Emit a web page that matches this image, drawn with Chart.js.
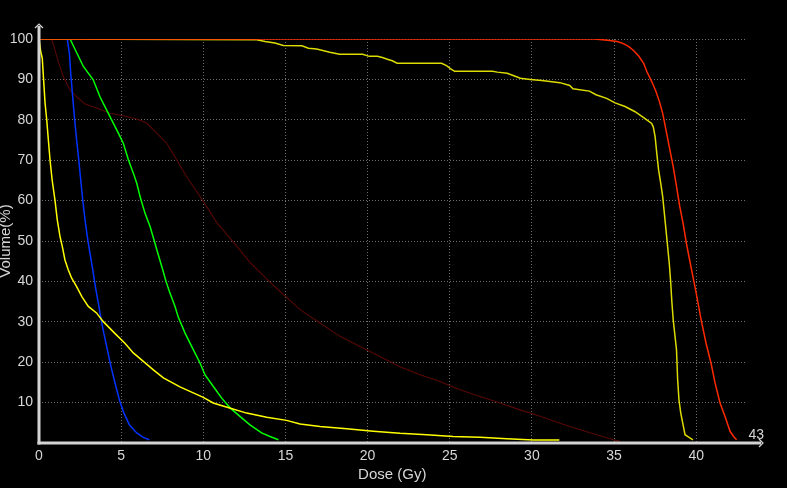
<!DOCTYPE html>
<html>
<head>
<meta charset="utf-8">
<script src="https://cdn.jsdelivr.net/npm/chart.js@4"></script>
<style>
  html, body { margin: 0; padding: 0; background: #000; }
  #wrap { width: 787px; height: 488px; position: relative; }
</style>
</head>
<body>
<div id="wrap"><canvas id="c" width="787" height="488"></canvas></div>
<script>
// ---- Data (dose in Gy, volume in %) ----
const xTitle = "Dose (Gy)";
const yTitle = "Volume(%)";
const xMaxLabel = "43";
const xTickValues = [0, 5, 10, 15, 20, 25, 30, 35, 40];
const yTickValues = [10, 20, 30, 40, 50, 60, 70, 80, 90, 100];

const redDose = [0, 33.8, 34.6, 35.2, 35.6, 35.9, 36.2, 36.5, 36.8, 37.0, 37.3, 37.55, 37.76, 37.96, 38.16, 38.4, 38.6, 38.8, 39.0, 39.2, 39.4, 39.6, 39.8, 40.0, 40.3, 40.6, 40.9, 41.15, 41.45, 41.75, 42.06, 42.3, 42.46];
const redVol  = [100, 100, 99.7, 99.4, 98.8, 98.1, 97.1, 95.8, 94.0, 91.9, 89.4, 87.0, 84.5, 81.6, 77.5, 72.5, 68.4, 63.5, 58.5, 54.4, 49.5, 45.3, 41.2, 37.1, 30.5, 24.7, 19.8, 14.8, 9.9, 6.6, 2.9, 1.5, 0.8];

const ptvDose = [0, 13.25, 13.76, 14.36, 14.87, 16.0, 16.4, 16.9, 17.7, 18.3, 19.7, 20.1, 20.6, 20.9, 21.2, 21.5, 21.8, 24.5, 24.8, 25.1, 25.3, 27.6, 27.9, 28.5, 28.9, 29.3, 29.9, 30.6, 31.1, 31.7, 32.3, 32.5, 33.5, 33.9, 34.55, 35.06, 35.67, 36.28, 36.78, 37.29, 37.39, 37.5, 37.6, 37.71, 37.84, 37.96, 38.06, 38.16, 38.26, 38.36, 38.45, 38.51, 38.6, 38.8, 38.87, 38.95, 39.06, 39.18, 39.32, 39.52, 39.8];
const ptvVol  = [100, 99.8, 99.4, 99.0, 98.4, 98.3, 97.7, 97.5, 96.7, 96.2, 96.2, 95.7, 95.7, 95.4, 95.0, 94.6, 94.0, 94.0, 93.4, 92.5, 92.0, 92.0, 91.8, 91.5, 90.9, 90.3, 90.0, 89.7, 89.5, 89.2, 88.5, 87.7, 87.1, 86.2, 85.3, 84.2, 83.3, 82.0, 80.6, 79.1, 78.2, 75.8, 71.7, 67.6, 64.3, 61.0, 56.9, 52.8, 48.6, 44.5, 39.6, 35.4, 30.5, 23.1, 15.7, 10.7, 7.4, 4.9, 2.05, 1.5, 0.8];

const yelDose = [0, 0.1, 0.2, 0.28, 0.37, 0.47, 0.57, 0.67, 0.8, 0.97, 1.11, 1.28, 1.42, 1.58, 1.78, 1.99, 2.29, 2.6, 3.0, 3.5, 3.9, 4.6, 5.23, 5.74, 6.35, 6.96, 7.57, 8.58, 9.39, 10.0, 10.6, 11.4, 12.64, 13.86, 15.07, 15.89, 17.1, 18.73, 20.35, 21.97, 23.6, 25.2, 26.84, 28.47, 30.09, 31.67];
const yelVol  = [100, 97, 95.2, 89.9, 84.1, 80.0, 75, 70.1, 65.1, 60.2, 55.3, 51.1, 48.6, 45.3, 42.9, 40.8, 38.7, 36.3, 33.8, 32.2, 30.1, 27.2, 24.7, 22.3, 20.2, 18.1, 16.1, 13.9, 12.4, 11.3, 9.9, 8.9, 7.4, 6.4, 5.6, 4.7, 4.1, 3.5, 2.9, 2.4, 2.05, 1.6, 1.4, 1.05, 0.75, 0.75];

const blueDose = [0, 1.72, 1.85, 1.93, 2.05, 2.17, 2.29, 2.42, 2.54, 2.66, 2.8, 2.94, 3.1, 3.27, 3.43, 3.61, 3.77, 3.91, 4.16, 4.38, 4.63, 4.89, 5.17, 5.5, 5.95, 6.35, 6.71];
const blueVol  = [100, 100, 96.5, 91.5, 85.7, 80, 75, 70.1, 65.1, 60.2, 55.3, 51.1, 47.0, 42.9, 38.7, 34.6, 30.9, 27.8, 23.1, 18.9, 14.8, 10.7, 7.4, 4.5, 2.5, 1.4, 0.8];

const greenDose = [0, 1.89, 2.7, 3.3, 3.71, 4.12, 4.42, 4.83, 5.13, 5.44, 5.74, 5.95, 6.15, 6.45, 6.76, 7.04, 7.26, 7.53, 7.73, 7.97, 8.28, 8.48, 8.89, 9.39, 9.8, 10.1, 10.61, 11.12, 11.63, 12.23, 12.84, 13.55, 14.06, 14.57];
const greenVol  = [100, 100, 93.2, 89.9, 85.7, 82.4, 80, 76.7, 74.2, 70.1, 66.8, 64.3, 61.0, 56.9, 53.6, 49.7, 46.6, 42.9, 40.0, 37.1, 33.8, 31.1, 27.2, 23.1, 19.8, 16.9, 14.0, 11.1, 8.7, 6.6, 4.5, 2.5, 1.6, 0.8];

const brownDose = [0, 0.77, 0.97, 1.17, 1.48, 1.89, 2.29, 2.8, 3.51, 4.32, 5.13, 5.95, 6.55, 7.16, 7.77, 8.38, 8.99, 9.5, 10.0, 10.81, 11.83, 12.84, 14.06, 14.67, 15.89, 17.1, 18.32, 19.54, 20.75, 21.97, 23.19, 24.4, 25.62, 26.84, 28.06, 29.28, 30.5, 31.71, 32.93, 34.14, 34.95, 35.36];
const brownVol  = [100, 100, 97.3, 94.4, 90.7, 87.4, 85.7, 83.9, 82.9, 81.6, 81.0, 80.2, 79.2, 76.7, 74.2, 70.1, 65.9, 62.8, 59.8, 54.6, 49.7, 44.7, 39.8, 37.5, 33.0, 29.7, 26.4, 23.9, 21.4, 18.9, 16.9, 15.2, 13.2, 11.5, 9.9, 8.2, 6.6, 4.9, 3.3, 1.8, 0.8, 0.4];

// ---- build ----
const pts = (xs, ys) => xs.map((x, i) => ({ x: x, y: ys[i] }));
const FONT = "'Liberation Sans', Arial, sans-serif";
const TEXT = '#d6d6d6';
const AXIS = '#d4d4d4';

function ds(data, color, w) {
  return { data: data, borderColor: color, backgroundColor: color, borderWidth: w,
           pointRadius: 0, tension: 0, fill: false };
}

const axesPlugin = {
  id: 'axesArrows',
  afterDraw(chart) {
    const ctx = chart.ctx;
    const xs = chart.scales.x, ys = chart.scales.y;
    const x0 = xs.getPixelForValue(0);
    const y0 = ys.getPixelForValue(0);
    const yTop = ys.getPixelForValue(100) - 15;
    const xEnd = xs.getPixelForValue(43) + 17.5;
    ctx.save();
    ctx.strokeStyle = AXIS;
    ctx.lineWidth = 3;
    ctx.beginPath();
    ctx.moveTo(x0, y0 + 1.5);
    ctx.lineTo(x0, yTop + 2);
    ctx.stroke();
    ctx.beginPath();
    ctx.moveTo(x0 - 1.5, y0);
    ctx.lineTo(xEnd - 2, y0);
    ctx.stroke();
    ctx.lineWidth = 1.2;
    ctx.beginPath();
    ctx.moveTo(x0 - 4, yTop + 4); ctx.lineTo(x0, yTop); ctx.lineTo(x0 + 4, yTop + 4);
    ctx.stroke();
    ctx.beginPath();
    ctx.moveTo(xEnd - 4, y0 - 4); ctx.lineTo(xEnd, y0); ctx.lineTo(xEnd - 4, y0 + 4);
    ctx.stroke();
    ctx.fillStyle = TEXT;
    ctx.font = "14px " + FONT;
    ctx.textAlign = 'left';
    ctx.textBaseline = 'alphabetic';
    ctx.fillText(xMaxLabel, xs.getPixelForValue(43) + 3, y0 - 4);
    ctx.restore();
  }
};

new Chart(document.getElementById('c'), {
  type: 'line',
  data: {
    datasets: [
      ds(pts(redDose, redVol), '#ff2a00', 1.5),
      ds(pts(ptvDose, ptvVol), '#dcdc00', 1.5),
      ds(pts(yelDose, yelVol), '#ffff00', 1.5),
      ds(pts(greenDose, greenVol), '#00ff00', 1.5),
      ds(pts(blueDose, blueVol), '#0033ff', 1.5),
      ds(pts(brownDose, brownVol), '#560804', 1.1)
    ]
  },
  plugins: [axesPlugin],
  options: {
    responsive: false,
    animation: false,
    events: [],
    layout: { padding: { top: 39, right: 41.5, left: 0, bottom: 0 } },
    plugins: { legend: { display: false }, tooltip: { enabled: false } },
    scales: {
      x: {
        type: 'linear', min: 0, max: 43,
        afterBuildTicks: (s) => { s.ticks = xTickValues.map(v => ({ value: v })); },
        afterFit: (s) => { s.height = 45; },
        ticks: { color: TEXT, padding: 5, font: { family: FONT, size: 14 }, maxRotation: 0, autoSkip: false },
        grid: { color: '#6e6e6e', drawTicks: false, lineWidth: 1 },
        border: { display: false, dash: [1, 2] },
        title: { display: true, text: xTitle, color: TEXT, font: { family: FONT, size: 15, lineHeight: 1.2 }, padding: { top: 0, bottom: 4 } }
      },
      y: {
        type: 'linear', min: 0, max: 100,
        afterBuildTicks: (s) => { s.ticks = yTickValues.map(v => ({ value: v })); },
        afterFit: (s) => { s.width = 39; },
        ticks: { color: TEXT, padding: 6, font: { family: FONT, size: 14 }, autoSkip: false },
        grid: { color: '#6e6e6e', drawTicks: false, lineWidth: 1 },
        border: { display: false, dash: [1, 2] },
        title: { display: true, text: yTitle, color: TEXT, font: { family: FONT, size: 15, lineHeight: 0.8 }, padding: 0 }
      }
    }
  }
});
</script>
</body>
</html>
